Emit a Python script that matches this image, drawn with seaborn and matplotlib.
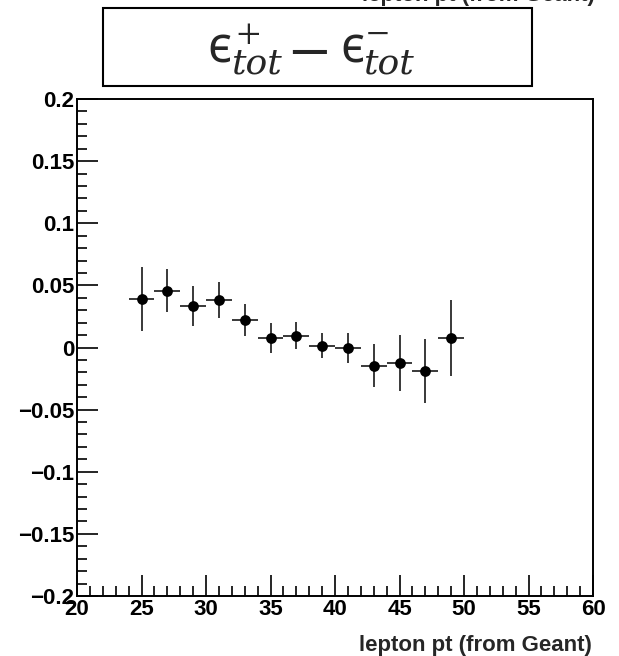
import matplotlib
matplotlib.use("Agg")
import matplotlib.pyplot as plt
from matplotlib.patches import Rectangle
from matplotlib.ticker import MultipleLocator, FixedLocator
import numpy as np
import pandas as pd
import seaborn as sns

# data
pt = [25, 27, 29, 31, 33, 35, 37, 39, 41, 43, 45, 47, 49]
diff = [0.039, 0.0457, 0.0337, 0.0382, 0.0221, 0.0074, 0.0095, 0.0015, -0.0007,
        -0.0146, -0.0127, -0.0187, 0.0074]
err_y = [0.026, 0.0175, 0.016, 0.0145, 0.013, 0.012, 0.011, 0.010, 0.012,
         0.0175, 0.0225, 0.0257, 0.0305]
err_x = [1] * len(pt)
xticks = [20, 25, 30, 35, 40, 45, 50, 55, 60]
yticks = [-0.2, -0.15, -0.1, -0.05, 0, 0.05, 0.1, 0.15, 0.2]
ytick_labels = ["\u22120.2", "\u22120.15", "\u22120.1", "\u22120.05", "0", "0.05", "0.1", "0.15", "0.2"]
x_label = "lepton pt (from Geant)"

df = pd.DataFrame({"pt": pt, "diff": diff})

sns.set_style("ticks")
plt.rcParams["font.family"] = ["Liberation Sans", "DejaVu Sans"]
plt.rcParams["mathtext.fontset"] = "stix"

W, H = 619, 656
fig = plt.figure(figsize=(W / 100, H / 100), dpi=100)
ax = fig.add_axes([77 / W, 1 - 596 / H, (593 - 77) / W, (596 - 99) / H])


def fx(x):
    return x / W


def fy(y):
    return 1 - y / H


ax.errorbar(pt, diff, xerr=err_x, yerr=err_y, fmt="none", ecolor="#2a2a2a",
            elinewidth=1.3, capsize=0, zorder=2)
sns.scatterplot(data=df, x="pt", y="diff", ax=ax, color="black", s=60,
                edgecolor="black", linewidth=0, zorder=3, legend=False)

ax.set_xlim(20, 60)
ax.set_ylim(-0.2, 0.2)
ax.xaxis.set_major_locator(FixedLocator(xticks))
ax.xaxis.set_minor_locator(MultipleLocator(1))
ax.yaxis.set_major_locator(FixedLocator(yticks))
ax.yaxis.set_minor_locator(MultipleLocator(0.01))
ax.set_xticklabels([str(t) for t in xticks])
ax.set_yticklabels(ytick_labels)

for s in ax.spines.values():
    s.set_linewidth(1.4)
    s.set_color("black")

ax.tick_params(axis="both", which="both", direction="in", top=False, right=False,
               colors="black", labelsize=16)
ax.tick_params(axis="x", which="major", length=15, width=1.2, pad=2)
ax.tick_params(axis="x", which="minor", length=7.5, width=1.2)
ax.tick_params(axis="y", which="major", length=15, width=1.2, pad=2)
ax.tick_params(axis="y", which="minor", length=7.5, width=1.2)
for lbl in ax.get_xticklabels() + ax.get_yticklabels():
    lbl.set_fontweight("bold")

ax.set_xlabel("")
ax.set_ylabel("")
fig.text(fx(592), fy(651.5), x_label, ha="right", va="baseline",
         fontsize=16, fontweight="bold")

# clipped copy at top right
fig.text(fx(595), fy(1.5), x_label, ha="right", va="baseline",
         fontsize=16, fontweight="bold")

# title box
rect = Rectangle((fx(103), fy(86)), (532 - 103) / W, (86 - 7.5) / H,
                 transform=fig.transFigure, fill=True, facecolor="white",
                 edgecolor="black", linewidth=1.5)
fig.patches.append(rect)

serif = ["DejaVu Serif", "DejaVu Sans"]
epsfam = ["Noto Sans", "DejaVu Sans"]
eps = "\u03f5"
tot = "tot"
fig.text(fx(207), fy(62.5), eps, ha="left", va="baseline", fontsize=35, family=epsfam)
fig.text(fx(248), fy(34), "$+$", ha="center", va="center", fontsize=25)
fig.text(fx(231), fy(73), tot, ha="left", va="baseline", fontsize=26, family=serif,
         style="italic")
fig.text(fx(307.5), fy(49), "$-$", ha="center", va="center", fontsize=44)
fig.text(fx(340), fy(62.5), eps, ha="left", va="baseline", fontsize=35, family=epsfam)
fig.text(fx(377), fy(31), "$-$", ha="center", va="center", fontsize=25)
fig.text(fx(363), fy(73), tot, ha="left", va="baseline", fontsize=26, family=serif,
         style="italic")

fig.savefig("out.png", dpi=100)
